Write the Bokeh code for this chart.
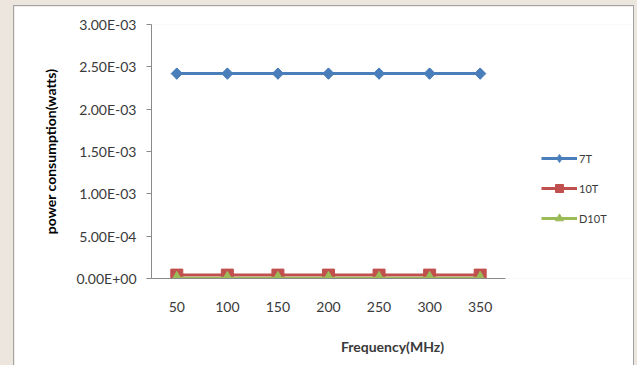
import math
from bokeh.plotting import figure
from bokeh.layouts import column
from bokeh.models import (ColumnDataSource, FixedTicker, Legend, LegendItem,
                          Range1d)
from bokeh.embed import file_html
from bokeh.resources import INLINE

# Power consumption (watts) of the three SRAM cells against clock frequency (MHz)
frequency = [50, 100, 150, 200, 250, 300, 350]
power_7t = [2.42e-3, 2.42e-3, 2.42e-3, 2.42e-3, 2.42e-3, 2.42e-3, 2.42e-3]
power_10t = [4.0e-5, 4.0e-5, 4.0e-5, 4.0e-5, 4.0e-5, 4.0e-5, 4.0e-5]
power_d10t = [3.0e-6, 3.0e-6, 3.0e-6, 3.0e-6, 3.0e-6, 3.0e-6, 3.0e-6]

y_ticks = [0.0, 5e-4, 1e-3, 1.5e-3, 2e-3, 2.5e-3, 3e-3]
y_tick_labels = ["0.00E+00", "5.00E-04", "1.00E-03", "1.50E-03",
                 "2.00E-03", "2.50E-03", "3.00E-03"]

FONT = "Lato"
TEXT = "#3a3a3a"
AXIS = "#8a8a8a"

src = ColumnDataSource(dict(f=frequency, p7=power_7t, p10=power_10t, pd10=power_d10t))

# the plotting area runs on to the right edge so the legend can sit beside the series
p = figure(frame_width=482, frame_height=254,
           x_range=Range1d(25, 501.6), y_range=Range1d(0, 3e-3),
           output_backend="svg", toolbar_location=None,
           min_border_left=137, min_border_right=0, min_border_top=18,
           min_border_bottom=87)
p.background_fill_color = "white"
p.border_fill_color = "white"
p.outline_line_color = None
p.grid.visible = False

# y axis
p.yaxis.ticker = FixedTicker(ticks=y_ticks)
p.yaxis.major_label_overrides = {t: l for t, l in zip(y_ticks, y_tick_labels)}
p.yaxis.axis_line_color = AXIS
p.yaxis.major_tick_line_color = AXIS
p.yaxis.major_tick_out = 5
p.yaxis.major_tick_in = 0
p.yaxis.minor_tick_line_color = None
p.yaxis.major_label_text_font = FONT
p.yaxis.major_label_text_font_size = "14px"
p.yaxis.major_label_text_color = TEXT
p.yaxis.major_label_standoff = 10
p.yaxis.axis_label = "power consumption(watts)"
p.yaxis.axis_label_text_font = FONT
p.yaxis.axis_label_text_font_size = "14px"
p.yaxis.axis_label_text_font_style = "bold"
p.yaxis.axis_label_text_color = "black"
p.yaxis.axis_label_standoff = 14

# x axis: one slot per frequency
p.xaxis.ticker = FixedTicker(ticks=frequency)
p.xaxis.bounds = (25, 375)
p.xaxis.axis_line_color = AXIS
p.xaxis.major_tick_line_color = None
p.xaxis.minor_tick_line_color = None
p.xaxis.major_label_text_font = FONT
p.xaxis.major_label_text_font_size = "14px"
p.xaxis.major_label_text_color = TEXT
p.xaxis.major_label_standoff = 17
p.xaxis.axis_label = "Frequency(MHz)"
p.xaxis.axis_label_text_font = FONT
p.xaxis.axis_label_text_font_size = "14px"
p.xaxis.axis_label_text_font_style = "bold"
p.xaxis.axis_label_text_color = TEXT
p.xaxis.axis_label_standoff = 23

BLUE, RED, GREEN = "#4a7ebb", "#c0504d", "#9bbb59"

l7 = p.line("f", "p7", source=src, line_color=BLUE, line_width=3)
# narrow diamond used as the legend swatch; the wider rotated square covers it in the plot
k7 = p.scatter("f", "p7", source=src, marker="diamond", size=11,
               fill_color=BLUE, line_color=BLUE)
p.scatter("f", "p7", source=src, marker="square", size=8, angle=math.pi / 4,
          fill_color=BLUE, line_color=BLUE)
l10 = p.line("f", "p10", source=src, line_color=RED, line_width=3)
m10 = p.scatter("f", "p10", source=src, marker="square", size=12,
                fill_color=RED, line_color=RED)
ld = p.line("f", "pd10", source=src, line_color=GREEN, line_width=3)
md = p.scatter("f", "pd10", source=src, marker="triangle", size=12,
               fill_color=GREEN, line_color=GREEN)

legend = Legend(items=[LegendItem(label="7T", renderers=[l7, k7]),
                       LegendItem(label="10T", renderers=[l10, m10]),
                       LegendItem(label="D10T", renderers=[ld, md])],
                location=(390, 50), orientation="vertical",
                glyph_width=36, glyph_height=20, spacing=10, label_standoff=2,
                padding=0, margin=0, border_line_color=None,
                background_fill_alpha=0, label_text_font=FONT,
                label_text_font_size="11px", label_text_color=TEXT)
p.add_layout(legend)

p.margin = (6, 0, 0, 14)
p.styles = {"outline": "1px solid #a3a3a3"}

page = column(p, width=637, height=365,
              styles={"background-color": "#ede6df"})

open("out.html", "w").write(file_html(page, INLINE))
